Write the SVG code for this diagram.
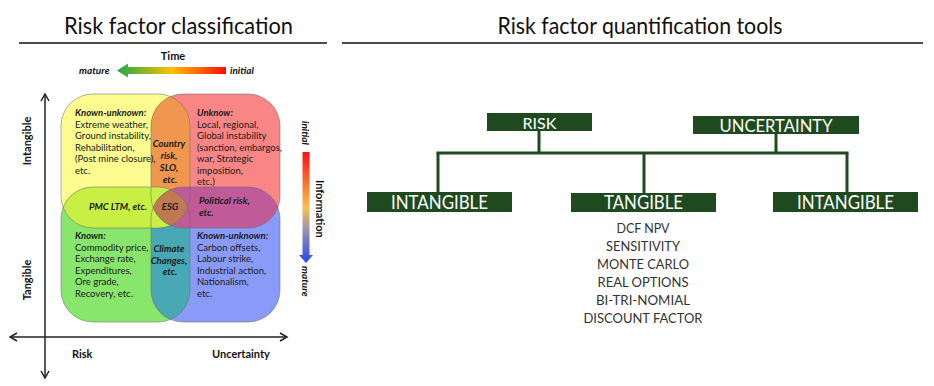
<svg xmlns="http://www.w3.org/2000/svg" xmlns:xlink="http://www.w3.org/1999/xlink" width="934" height="386" viewBox="0 0 934 386">
<style>
.title{font-family:Lato,"Open Sans",sans-serif;font-size:23px;fill:#111;font-weight:normal}
.rule{stroke:#111;stroke-width:1.6}
.q{font-family:Lato,"Liberation Sans",sans-serif;font-size:9.5px;fill:#1a1a1a}
.qh{font-weight:bold;font-style:italic}
.c{text-anchor:middle}
.ax{font-family:Lato,"Liberation Sans",sans-serif;font-size:11px;font-weight:bold;fill:#111}
.ax2{font-family:Lato,"Liberation Sans",sans-serif;font-size:10px;font-weight:bold;font-style:italic;fill:#111}
.axis{stroke:#222;stroke-width:1.5;fill:none}
.ol{fill:none;stroke:#6f6f6f;stroke-opacity:.55;stroke-width:1}
.box{fill:#1f4a1f}
.bt{font-family:Lato,"Liberation Sans",sans-serif;fill:#fff;text-anchor:middle}
.link{stroke:#1f4a1f;stroke-width:3;fill:none}
.li{font-family:Lato,"Liberation Sans",sans-serif;font-size:13px;fill:#333;text-anchor:middle}
</style>
<defs>
<rect id="shY" x="61" y="94" width="129" height="134" rx="32"/>
<rect id="shR" x="151" y="94" width="129" height="134" rx="32"/>
<rect id="shG" x="61" y="187" width="129" height="135" rx="32"/>
<rect id="shB" x="151" y="187" width="129" height="135" rx="32"/>
<clipPath id="cY"><use xlink:href="#shY"/></clipPath>
<clipPath id="cR"><use xlink:href="#shR"/></clipPath>
<clipPath id="cG"><use xlink:href="#shG"/></clipPath>
<clipPath id="cB"><use xlink:href="#shB"/></clipPath>
<linearGradient id="gTime" x1="0" y1="0" x2="1" y2="0">
<stop offset="0" stop-color="#1fa84a"/>
<stop offset="0.5" stop-color="#ffc000"/>
<stop offset="1" stop-color="#ff0a0a"/>
</linearGradient>
<linearGradient id="gInfo" x1="0" y1="0" x2="0" y2="1">
<stop offset="0" stop-color="#ff1010"/>
<stop offset="0.5" stop-color="#f7c050"/>
<stop offset="0.7" stop-color="#9a94b0"/>
<stop offset="1" stop-color="#2446f0"/>
</linearGradient>
</defs>
<rect width="934" height="386" fill="#fff"/>

<g id="left-title">
<text class="title c" x="178.5" y="34" textLength="229" lengthAdjust="spacingAndGlyphs">Risk factor classification</text>
<line class="rule" x1="19" y1="43" x2="327" y2="43"/>
</g>
<g id="right-title">
<text class="title c" x="640" y="34" textLength="285" lengthAdjust="spacingAndGlyphs">Risk factor quantification tools</text>
<line class="rule" x1="342" y1="43" x2="923" y2="43"/>
</g>

<g id="time-arrow">
<text class="ax c" x="173" y="60" font-size="10">Time</text>
<polygon points="117,70.5 128,63.5 128,67 226,67 226,74 128,74 128,77.5" fill="url(#gTime)"/>
<text class="ax2" x="79" y="74">mature</text>
<text class="ax2" x="230" y="74">initial</text>
</g>

<g id="info-arrow">
<polygon points="302.5,152 309.5,152 309.5,255 313,255 306,263 299,255 302.5,255" fill="url(#gInfo)"/>
<text class="ax2" transform="translate(302,121) rotate(90)">initial</text>
<text class="ax" font-size="10" transform="translate(316,180) rotate(90)">Information</text>
<text class="ax2" transform="translate(302,266) rotate(90)">mature</text>
</g>

<g id="venn">
<g id="quad-known-unknown-top">
<use xlink:href="#shY" fill="#fdfd8f"/>
</g>
<g id="quad-unknow">
<use xlink:href="#shR" fill="#f98585"/>
</g>
<g id="quad-known">
<use xlink:href="#shG" fill="#88e66c"/>
</g>
<g id="quad-known-unknown-bottom">
<use xlink:href="#shB" fill="#8a9af8"/>
</g>
<g id="overlaps">
<use xlink:href="#shR" fill="#f0964e" clip-path="url(#cY)"/>
<use xlink:href="#shB" fill="#48a8b4" clip-path="url(#cG)"/>
<use xlink:href="#shG" fill="#c8f044" clip-path="url(#cY)"/>
<use xlink:href="#shB" fill="#c05a98" clip-path="url(#cR)"/>
<g clip-path="url(#cY)"><g clip-path="url(#cR)"><use xlink:href="#shB" fill="#c07a52" clip-path="url(#cG)"/></g></g>
</g>
<use xlink:href="#shY" class="ol"/>
<use xlink:href="#shR" class="ol"/>
<use xlink:href="#shG" class="ol"/>
<use xlink:href="#shB" class="ol"/>

<text class="q" x="75">
<tspan class="qh" x="75" y="116">Known-unknown:</tspan>
<tspan x="75" y="127.5">Extreme weather,</tspan>
<tspan x="75" y="139">Ground instability,</tspan>
<tspan x="75" y="150.5">Rehabilitation,</tspan>
<tspan x="75" y="162">(Post mine closure),</tspan>
<tspan x="75" y="173.5">etc.</tspan>
</text>
<text class="q">
<tspan class="qh" x="197" y="116">Unknow:</tspan>
<tspan x="197" y="127.5">Local, regional,</tspan>
<tspan x="197" y="139">Global instability</tspan>
<tspan x="197" y="150.5">(sanction, embargos,</tspan>
<tspan x="197" y="162">war, Strategic</tspan>
<tspan x="197" y="173.5">imposition,</tspan>
<tspan x="197" y="185">etc.)</tspan>
</text>
<text class="q qh c">
<tspan x="170" y="147">Country</tspan>
<tspan x="170" y="159">risk,</tspan>
<tspan x="170" y="171">SLO,</tspan>
<tspan x="170" y="183">etc.</tspan>
</text>
<text class="q qh c" x="170" y="210">ESG</text>
<text class="q qh c" x="118" y="210">PMC LTM, etc.</text>
<text class="q qh">
<tspan x="199" y="204">Political risk,</tspan>
<tspan x="199" y="215.5">etc.</tspan>
</text>
<text class="q">
<tspan class="qh" x="75" y="239">Known:</tspan>
<tspan x="75" y="250.5">Commodity price,</tspan>
<tspan x="75" y="262">Exchange rate,</tspan>
<tspan x="75" y="273.5">Expenditures,</tspan>
<tspan x="75" y="285">Ore grade,</tspan>
<tspan x="75" y="296.5">Recovery, etc.</tspan>
</text>
<text class="q qh c">
<tspan x="170" y="252">Climate</tspan>
<tspan x="170" y="263.5">Changes,</tspan>
<tspan x="170" y="275">etc.</tspan>
</text>
<text class="q">
<tspan class="qh" x="197" y="239">Known-unknown:</tspan>
<tspan x="197" y="250.5">Carbon offsets,</tspan>
<tspan x="197" y="262">Labour strike,</tspan>
<tspan x="197" y="273.5">Industrial action,</tspan>
<tspan x="197" y="285">Nationalism,</tspan>
<tspan x="197" y="296.5">etc.</tspan>
</text>
</g>

<g id="axes">
<line class="axis" x1="45" y1="94" x2="45" y2="378"/>
<polyline class="axis" points="41,101 45,94 49,101"/>
<polyline class="axis" points="41,371 45,378 49,371"/>
<line class="axis" x1="10" y1="337" x2="287" y2="337"/>
<polyline class="axis" points="17,333 10,337 17,341"/>
<polyline class="axis" points="280,333 287,337 280,341"/>
<text class="ax c" transform="translate(31,141) rotate(-90)">Intangible</text>
<text class="ax c" transform="translate(31,280) rotate(-90)">Tangible</text>
<text class="ax" x="72" y="358">Risk</text>
<text class="ax" x="212" y="358">Uncertainty</text>
</g>

<g id="connectors">
<line class="link" x1="539" y1="131" x2="539" y2="153"/>
<line class="link" x1="776" y1="134" x2="776" y2="153"/>
<line class="link" x1="436.5" y1="153" x2="848.5" y2="153"/>
<line class="link" x1="438" y1="153" x2="438" y2="192"/>
<line class="link" x1="644" y1="153" x2="644" y2="193"/>
<line class="link" x1="847" y1="153" x2="847" y2="192"/>
</g>

<g id="node-risk">
<rect class="box" x="487" y="113" width="105" height="18"/>
<text class="bt" x="539.5" y="128.5" font-size="16" textLength="34" lengthAdjust="spacingAndGlyphs">RISK</text>
</g>
<g id="node-uncertainty">
<rect class="box" x="693" y="116" width="166" height="18"/>
<text class="bt" x="776" y="131.5" font-size="17" textLength="113" lengthAdjust="spacingAndGlyphs">UNCERTAINTY</text>
</g>
<g id="node-intangible-left">
<rect class="box" x="367" y="192" width="145" height="20"/>
<text class="bt" x="439.5" y="209" font-size="18.5" textLength="97" lengthAdjust="spacingAndGlyphs">INTANGIBLE</text>
</g>
<g id="node-tangible">
<rect class="box" x="571" y="193" width="145" height="19"/>
<text class="bt" x="643.5" y="209" font-size="18.5" textLength="79" lengthAdjust="spacingAndGlyphs">TANGIBLE</text>
</g>
<g id="node-intangible-right">
<rect class="box" x="773" y="192" width="145" height="20"/>
<text class="bt" x="845.5" y="209" font-size="18.5" textLength="97" lengthAdjust="spacingAndGlyphs">INTANGIBLE</text>
</g>

<g id="tools-list">
<text class="li" x="643" y="233" textLength="53" lengthAdjust="spacingAndGlyphs">DCF NPV</text>
<text class="li" x="643" y="251" textLength="74" lengthAdjust="spacingAndGlyphs">SENSITIVITY</text>
<text class="li" x="643" y="269" textLength="92" lengthAdjust="spacingAndGlyphs">MONTE CARLO</text>
<text class="li" x="643" y="287" textLength="91" lengthAdjust="spacingAndGlyphs">REAL OPTIONS</text>
<text class="li" x="643" y="305" textLength="94" lengthAdjust="spacingAndGlyphs">BI-TRI-NOMIAL</text>
<text class="li" x="643" y="323" textLength="119" lengthAdjust="spacingAndGlyphs">DISCOUNT FACTOR</text>
</g>
</svg>
